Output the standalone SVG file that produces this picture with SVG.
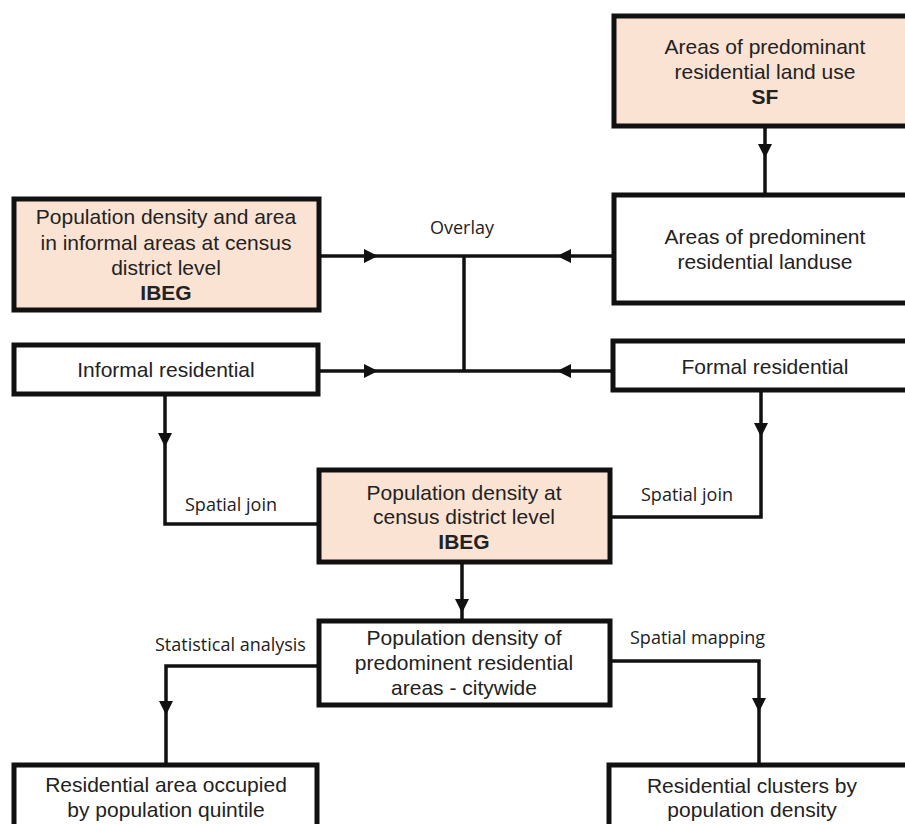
<svg xmlns="http://www.w3.org/2000/svg" xmlns:xlink="http://www.w3.org/1999/xlink" width="905" height="824" viewBox="0 0 905 824">
<style>
.box{fill:#ffffff;stroke:#111111;stroke-width:5}
.src{fill:#fbe3d4}
.t{font-family:"Liberation Sans",Arial,sans-serif;font-size:21px;fill:#222222;text-anchor:middle}
.b{font-weight:bold}
.lbl{font-family:"Open Sans","DejaVu Sans",sans-serif;font-size:18px;fill:#222222}
.ln{fill:none;stroke:#111111;stroke-width:3.5;stroke-linejoin:miter}
.ah{fill:#111111}
</style>
<defs>
<path id="ahd" d="M0,0 L-7,-14 L7,-14 Z"/>
</defs>
<rect width="905" height="824" fill="#ffffff"/>

<g id="connectors">
<path class="ln" d="M765,126 V193"/>
<path class="ln" d="M319,256 H612"/>
<path class="ln" d="M464,256 V371"/>
<path class="ln" d="M318,371 H612"/>
<path class="ln" d="M165,394 V524 H319"/>
<path class="ln" d="M761,390 V517 H610"/>
<path class="ln" d="M462,562 V619"/>
<path class="ln" d="M319,666 H166 V763"/>
<path class="ln" d="M610,661 H759 V763"/>
<use class="ah" xlink:href="#ahd" transform="translate(765,158)"/>
<use class="ah" xlink:href="#ahd" transform="translate(378,256) rotate(-90)"/>
<use class="ah" xlink:href="#ahd" transform="translate(557,256) rotate(90)"/>
<use class="ah" xlink:href="#ahd" transform="translate(378,371) rotate(-90)"/>
<use class="ah" xlink:href="#ahd" transform="translate(557,371) rotate(90)"/>
<use class="ah" xlink:href="#ahd" transform="translate(165,447)"/>
<use class="ah" xlink:href="#ahd" transform="translate(761,437)"/>
<use class="ah" xlink:href="#ahd" transform="translate(462,613)"/>
<use class="ah" xlink:href="#ahd" transform="translate(166,715)"/>
<use class="ah" xlink:href="#ahd" transform="translate(759,712)"/>
<text class="lbl" x="462" y="234" text-anchor="middle">Overlay</text>
<text class="lbl" x="185" y="511">Spatial join</text>
<text class="lbl" x="641" y="501">Spatial join</text>
<text class="lbl" x="155" y="651">Statistical analysis</text>
<text class="lbl" x="630" y="644">Spatial mapping</text>
</g>

<g id="sf-landuse">
<rect class="box src" x="614" y="16" width="300" height="110"/>
<text class="t" x="765" y="54">Areas of predominant</text>
<text class="t" x="765" y="79">residential land use</text>
<text class="t b" x="765" y="104">SF</text>
</g>

<g id="predominent-landuse">
<rect class="box" x="614" y="195" width="300" height="108"/>
<text class="t" x="765" y="244">Areas of predominent</text>
<text class="t" x="765" y="269">residential landuse</text>
</g>

<g id="informal-density">
<rect class="box src" x="14" y="199" width="305" height="111"/>
<text class="t" x="166" y="224">Population density and area</text>
<text class="t" x="166" y="250">in informal areas at census</text>
<text class="t" x="166" y="275">district level</text>
<text class="t b" x="166" y="300">IBEG</text>
</g>

<g id="informal-residential">
<rect class="box" x="14" y="345" width="304" height="49"/>
<text class="t" x="166" y="377">Informal residential</text>
</g>

<g id="formal-residential">
<rect class="box" x="613" y="341" width="300" height="49"/>
<text class="t" x="765" y="374">Formal residential</text>
</g>

<g id="census-density">
<rect class="box src" x="319" y="470" width="291" height="92"/>
<text class="t" x="464" y="500">Population density at</text>
<text class="t" x="464" y="524">census district level</text>
<text class="t b" x="464" y="549">IBEG</text>
</g>

<g id="citywide-density">
<rect class="box" x="319" y="621" width="291" height="84"/>
<text class="t" x="464" y="645">Population density of</text>
<text class="t" x="464" y="670">predominent residential</text>
<text class="t" x="464" y="695">areas - citywide</text>
</g>

<g id="quintile-area">
<rect class="box" x="14" y="765" width="303" height="80"/>
<text class="t" x="166" y="792">Residential area occupied</text>
<text class="t" x="166" y="817">by population quintile</text>
</g>

<g id="density-clusters">
<rect class="box" x="609" y="765" width="300" height="80"/>
<text class="t" x="752" y="793">Residential clusters by</text>
<text class="t" x="752" y="817">population density</text>
</g>
</svg>
